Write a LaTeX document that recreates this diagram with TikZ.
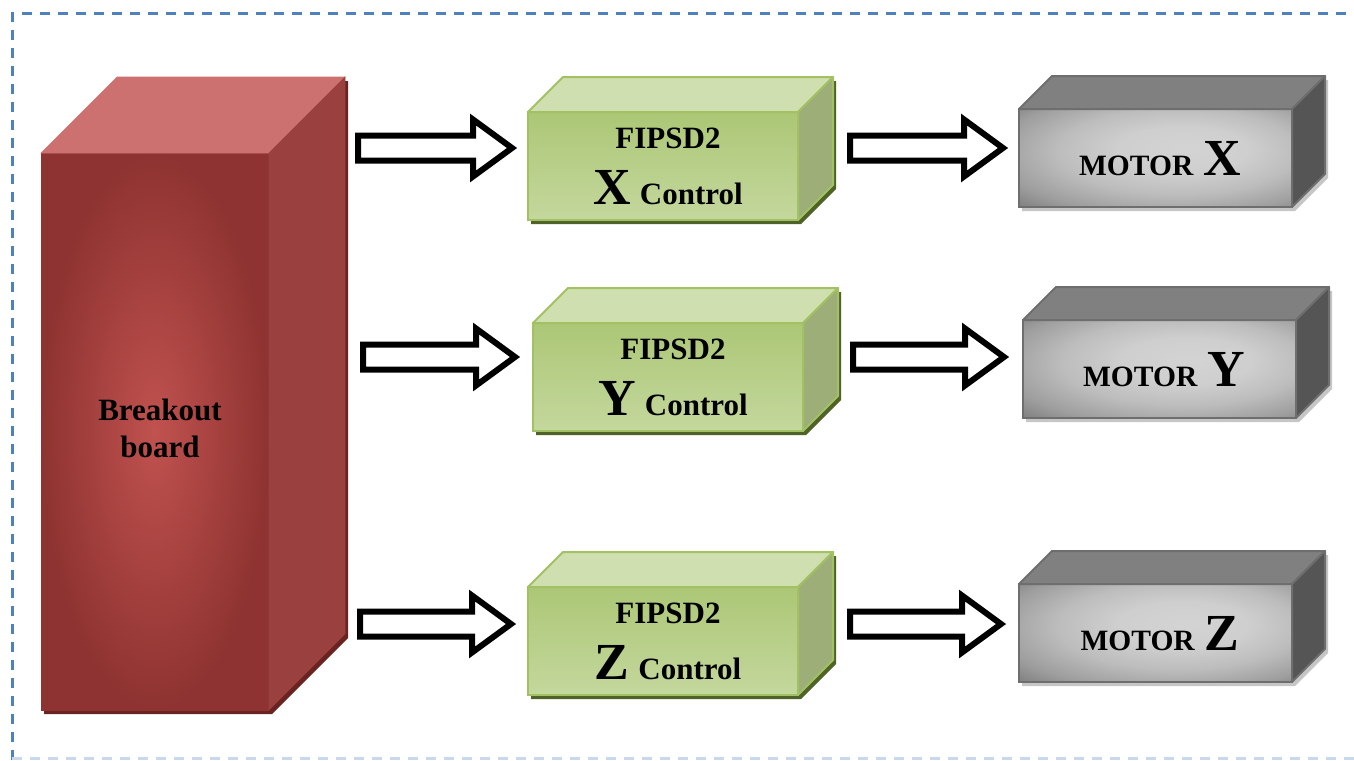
\documentclass[tikz,border=0pt]{standalone}
\usepackage{fontspec}
\setmainfont{Liberation Serif}
\usetikzlibrary{calc}
\definecolor{frameblue}{HTML}{4F81BD}
\definecolor{framelight}{HTML}{C9D8EC}
\definecolor{redin}{HTML}{C0524F}
\definecolor{redout}{HTML}{8E3331}
\definecolor{redtopc}{HTML}{CC716F}
\definecolor{redsidec}{HTML}{9A403E}
\definecolor{redshadowc}{HTML}{6A2321}
\definecolor{grtopc}{HTML}{D0DFB0}
\definecolor{grsidec}{HTML}{9EAE78}
\definecolor{grfront1}{HTML}{ACC776}
\definecolor{grfront2}{HTML}{9ABA57}
\definecolor{grfront3}{HTML}{C4D79D}
\definecolor{grborder}{HTML}{A2C163}
\definecolor{grshadowc}{HTML}{4F6228}
\definecolor{motopc}{HTML}{808080}
\definecolor{mosidec}{HTML}{555555}
\definecolor{moborder}{HTML}{6E6E6E}
\definecolor{moshadowc}{HTML}{C6C6C6}
\pgfdeclareradialshading{motorshade}{\pgfpoint{6bp}{5bp}}{%
  color(0bp)=(black!17); color(12bp)=(black!19); color(22bp)=(black!26);
  color(32bp)=(black!38); color(40bp)=(black!52); color(46bp)=(black!60); color(70bp)=(black!60)}
\newcommand\cuboid[7]{%
  \fill[#7shadow, shift={(3,4)}] (#2,#3) -- ({#2+#6},{#3-#6}) -- ({#4+#6},{#3-#6}) -- ({#4+#6},{#5-#6}) -- (#4,#5) -- (#2,#5) -- cycle;
  \node[#7front, inner sep=0pt, outer sep=0pt, minimum width={(#4-#2)*1pt}, minimum height={(#5-#3)*1pt}] (#1) at ({(#2+#4)/2},{(#3+#5)/2}) {};
  \filldraw[#7top] (#2,#3) -- ({#2+#6},{#3-#6}) -- ({#4+#6},{#3-#6}) -- (#4,#3) -- cycle;
  \filldraw[#7side] (#4,#3) -- ({#4+#6},{#3-#6}) -- ({#4+#6},{#5-#6}) -- (#4,#5) -- cycle;
}
\newcommand\blockarrow[2]{%
  \draw[blockarr] let \p1=(#1), \p2=(#2) in
    (\x1,\y1+12.5pt) -- (\x2-39pt,\y1+12.5pt) -- (\x2-39pt,\y1+28.5pt) -- (\x2,\y1)
    -- (\x2-39pt,\y1-28.5pt) -- (\x2-39pt,\y1-12.5pt) -- (\x1,\y1-12.5pt) -- cycle;
}
\newcommand\fsmid{\fontsize{31}{37}\selectfont}
\newcommand\fsmot{\fontsize{29.5}{34}\selectfont}
\newcommand\fsbig{\fontsize{52}{56}\selectfont}
\begin{document}
\begin{tikzpicture}[x=1pt,y=-1pt,
  frame/.style={draw=frameblue, line width=3pt, dash pattern=on 10pt off 8pt},
  redshadow/.style={fill=redshadowc},
  redfront/.style={draw=none, inner color=redin, outer color=redout},
  redtop/.style={fill=redtopc, draw=redtopc, line width=0.6pt},
  redside/.style={fill=redsidec, draw=redsidec, line width=0.6pt},
  greenshadow/.style={fill=grshadowc},
  greenfront/.style={draw=grborder, line width=2pt, top color=grfront1, middle color=grfront2, bottom color=grfront3},
  greentop/.style={fill=grtopc, draw=grborder, line width=2pt, line join=round},
  greenside/.style={fill=grsidec, draw=grborder, line width=2pt, line join=round},
  motorshadow/.style={fill=moshadowc},
  motorfront/.style={draw=moborder, line width=2pt, shade, shading=motorshade},
  motortop/.style={fill=motopc, draw=moborder, line width=2pt, line join=round},
  motorside/.style={fill=mosidec, draw=moborder, line width=2pt, line join=round},
  blockarr/.style={draw=black, fill=white, line width=6pt, miter limit=10},
  lbl/.style={inner sep=0pt, outer sep=0pt, text=black, font=\bfseries},
]
\useasboundingbox (0,0) rectangle (1354,760);
% frame
\draw[frame] (12,760) -- (12,14) -- (1360,14);
\draw[frame, draw=framelight] (12,758) -- (1360,758);

% boxes
\cuboid{bb}{41}{153}{269}{710}{76}{red}
\cuboid{gx}{528}{112}{798}{220}{35}{green}
\cuboid{gy}{533}{323}{803}{431}{35}{green}
\cuboid{gz}{528}{587}{798}{695}{35}{green}
\cuboid{mx}{1019}{109}{1292}{207}{33}{motor}
\cuboid{my}{1023}{320}{1296}{418}{33}{motor}
\cuboid{mz}{1019}{584}{1292}{682}{33}{motor}

% labels
\node[lbl, align=center, font=\bfseries\fsmid] (bbt) at ($(bb)+(5,-3.5)$) {Breakout\\board};

\node[lbl, anchor=base, font=\bfseries\fsmid] (gxa) at ($(gx.north)+(5,36)$) {FIPSD2};
\node[lbl, anchor=base] (gxb) at ($(gx.north)+(5,92)$) {\fsbig X\hspace{9pt}\fsmid Control};
\node[lbl, anchor=base, font=\bfseries\fsmid] (gya) at ($(gy.north)+(5,36)$) {FIPSD2};
\node[lbl, anchor=base] (gyb) at ($(gy.north)+(5,92)$) {\fsbig Y\hspace{9pt}\fsmid Control};
\node[lbl, anchor=base, font=\bfseries\fsmid] (gza) at ($(gz.north)+(5,36)$) {FIPSD2};
\node[lbl, anchor=base] (gzb) at ($(gz.north)+(5,92)$) {\fsbig Z\hspace{9pt}\fsmid Control};

\node[lbl, anchor=base] (mxt) at ($(mx.north)+(4.5,66)$) {\fsmot MOTOR\hspace{10pt}\fsbig X};
\node[lbl, anchor=base] (myt) at ($(my.north)+(4.5,66)$) {\fsmot MOTOR\hspace{10pt}\fsbig Y};
\node[lbl, anchor=base] (mzt) at ($(mz.north)+(4.5,66)$) {\fsmot MOTOR\hspace{10pt}\fsbig Z};

% block arrows
\coordinate (a1s) at (358,148);  \coordinate (a1e) at (512,148);
\coordinate (a2s) at (850,148);  \coordinate (a2e) at (1003,148);
\coordinate (b1s) at (363,357);  \coordinate (b1e) at (515,357);
\coordinate (b2s) at (853,357);  \coordinate (b2e) at (1004,357);
\coordinate (c1s) at (360,624);  \coordinate (c1e) at (511,624);
\coordinate (c2s) at (850,624);  \coordinate (c2e) at (1001,624);
\blockarrow{a1s}{a1e}
\blockarrow{a2s}{a2e}
\blockarrow{b1s}{b1e}
\blockarrow{b2s}{b2e}
\blockarrow{c1s}{c1e}
\blockarrow{c2s}{c2e}
\end{tikzpicture}
\end{document}
